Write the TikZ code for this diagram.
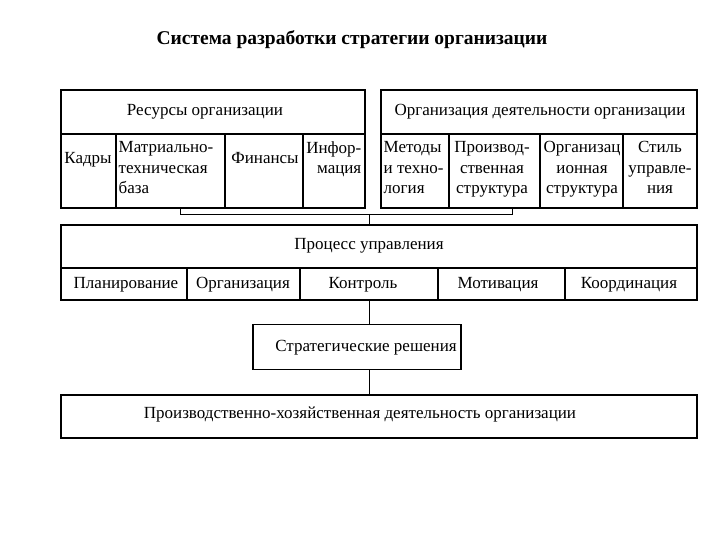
\documentclass[tikz,border=0pt]{standalone}
\usepackage{fontspec}
\setmainfont{Liberation Serif}
\begin{document}
\begin{tikzpicture}[x=1pt,y=-1pt,line width=1.4pt,
  t/.style={font=\fontsize{17}{20.5}\selectfont,inner sep=0pt,align=left},
  c/.style={font=\fontsize{17}{20.5}\selectfont,inner sep=0pt,align=center}]
\useasboundingbox (0,0) rectangle (720,540);
\node[font=\bfseries\fontsize{19.5}{22}\selectfont] (title) at (352,40) {Система разработки стратегии организации};
% left box
\draw (61,90) rectangle (365,208);
\draw (61,134) -- (365,134);
\draw (116,134) -- (116,208) (225,134) -- (225,208) (303,134) -- (303,208);
\node[c] (res) at (205,112) {Ресурсы организации};
\node[c] (kad) at (88,160) {Кадры};
\node[t,anchor=north west] (mat) at (118,141) {Матриально-\\техническая\\база};
\node[c] (fin) at (265,158) {Финансы};
\node[c,align=right,anchor=north east] (inf) at (362,141) {Инфор-\\мация};
% right box
\draw (381,90) rectangle (697,208);
\draw (381,134) -- (697,134);
\draw (449,134) -- (449,208) (540,134) -- (540,208) (623,134) -- (623,208);
\node[c] (org) at (540,112) {Организация деятельности организации};
\node[t,anchor=north west] (met) at (383,141) {Методы\\и техно-\\логия};
\node[c,anchor=north] (proizv) at (492,141) {Производ-\\ственная\\структура};
\node[c,anchor=north] (ostr) at (582,141) {Организац\\ионная\\структура};
\node[c,anchor=north] (stil) at (660,141) {Стиль\\управле-\\ния};
% bracket
\coordinate (b1) at (180,208); \coordinate (b2) at (512,208);
\draw[line width=0.9pt] (b1) -- (180,214) -- (512,214) -- (b2);
\coordinate (bm) at (369,214);
% process box
\draw (61,225) rectangle (697,300);
\draw (61,268) -- (697,268);
\draw (187,268) -- (187,300) (300,268) -- (300,300) (438,268) -- (438,300) (565,268) -- (565,300);
\node[c] (proc) at (369,246) {Процесс управления};
\draw[line width=0.9pt] (bm) -- (369,225);
\node[c] (plan) at (126,285) {Планирование};
\node[c] (orgz) at (243,285) {Организация};
\node[c] (ctrl) at (363,285) {Контроль};
\node[c] (mot) at (498,285) {Мотивация};
\node[c] (coord) at (629,285) {Координация};
% strategic
\node[draw,minimum width=208,minimum height=45,inner sep=0pt] (str) at (357,347) {};
\node[c] (strt) at (366,348) {Стратегические решения};
\draw[line width=0.9pt] (369,300) -- (369,325);
\draw[line width=0.9pt] (369,370) -- (369,395);
% production
\draw (61,395) rectangle (697,438);
\node[c] (prod) at (360,414) {Производственно-хозяйственная деятельность организации};
\end{tikzpicture}
\end{document}
